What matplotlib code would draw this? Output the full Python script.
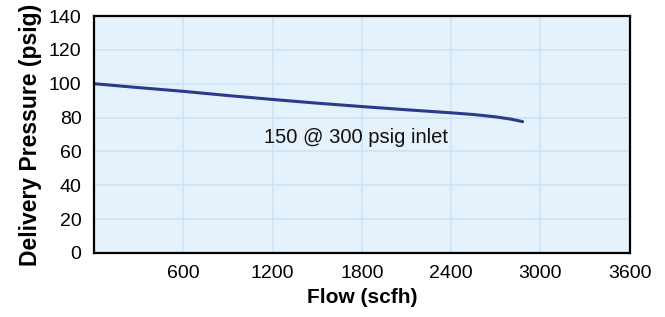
import matplotlib
matplotlib.use("Agg")
import matplotlib.pyplot as plt

# flow vs delivery pressure
flow = [0, 300, 600, 900, 1200, 1500, 1800, 2100, 2400, 2550, 2700, 2800, 2880]
pressure = [100, 97.7, 95.5, 93.0, 90.7, 88.5, 86.5, 84.6, 82.8, 81.8, 80.4, 79.1, 77.6]

x_ticks = [600, 1200, 1800, 2400, 3000, 3600]
y_ticks = [0, 20, 40, 60, 80, 100, 120, 140]
curve_label = "150 @ 300 psig inlet"

plt.rcParams['font.family'] = ['Liberation Sans', 'DejaVu Sans']

fig = plt.figure(figsize=(6.65, 3.17), dpi=100)
ax = fig.add_axes([0.1414, 0.202, 0.8056, 0.7475])
ax.set_facecolor('#e5f1fb')

ax.plot(flow, pressure, color='#2b3a8c', linewidth=2.2, solid_capstyle='round')
ax.text(1760, 68, curve_label, fontsize=14.5, ha='center', va='center', color='#111111')

ax.set_xlim(0, 3600)
ax.set_ylim(0, 140)
ax.set_xticks(x_ticks)
ax.set_yticks(y_ticks)
ax.grid(True, color='#c9e3f6', linewidth=1.1)
ax.set_axisbelow(True)
ax.tick_params(length=0, labelsize=14, pad=9)
for s in ax.spines.values():
    s.set_linewidth(1.6)
    s.set_color('black')

ax.set_xlabel('Flow (scfh)', fontsize=15, fontweight='bold', labelpad=4)
ax.set_ylabel('Delivery Pressure (psig)', fontsize=16.5, fontweight='bold', labelpad=5)

fig.savefig('out.png', dpi=100)
